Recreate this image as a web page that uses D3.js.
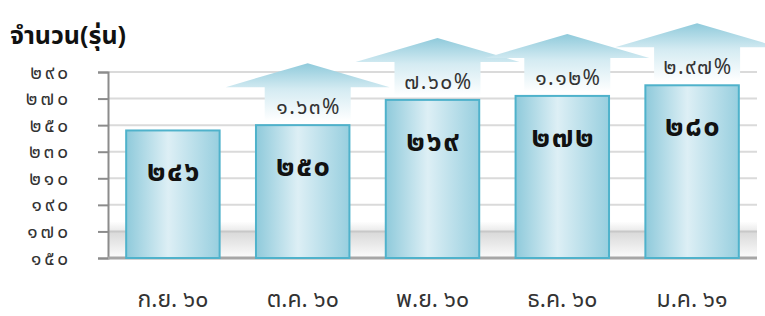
<!DOCTYPE html>
<html>
<head>
<meta charset="utf-8">
<script src="https://cdn.jsdelivr.net/npm/d3@7"></script>
<style>
  body { margin: 0; background: #fff; }
  svg { display: block; }
  svg text { font-family: "Noto Sans Thai", "Noto Sans", sans-serif; }
</style>
</head>
<body>
<div id="container"></div>
<script>
// data
const months = ["ก.ย. ๖๐", "ต.ค. ๖๐", "พ.ย. ๖๐", "ธ.ค. ๖๐", "ม.ค. ๖๑"];
const counts = [246, 250, 269, 272, 280];
const growth = [null, 1.63, 7.60, 1.12, 2.97];
const yTicks = [150, 170, 190, 210, 230, 250, 270, 290];

const W = 765, H = 316;
const thaiDigits = "๐๑๒๓๔๕๖๗๘๙";
function thai(s) {
  return String(s).replace(/[0-9]/g, d => thaiDigits[+d]);
}

let viz = d3.select("#container")
  .append("svg")
    .attr("width", W)
    .attr("height", H);

let defs = viz.append("defs");

// bar gradient, dark edges light middle
let barGrad = defs.append("linearGradient").attr("id", "barGrad")
  .attr("x1", 0).attr("x2", 1).attr("y1", 0).attr("y2", 0);
barGrad.append("stop").attr("offset", "0%").attr("stop-color", "#8fcadb");
barGrad.append("stop").attr("offset", "45%").attr("stop-color", "#ddeff5");
barGrad.append("stop").attr("offset", "100%").attr("stop-color", "#98cfdf");

// arrows fade to white at the bottom
let arrowGrad = defs.append("linearGradient").attr("id", "arrowGrad")
  .attr("x1", 0).attr("x2", 0).attr("y1", 0).attr("y2", 1);
arrowGrad.append("stop").attr("offset", "0%").attr("stop-color", "#8fcadb");
arrowGrad.append("stop").attr("offset", "45%").attr("stop-color", "#d4ebf2");
arrowGrad.append("stop").attr("offset", "100%").attr("stop-color", "#ffffff");

let floorGrad = defs.append("linearGradient").attr("id", "floorGrad")
  .attr("x1", 0).attr("x2", 0).attr("y1", 0).attr("y2", 1);
floorGrad.append("stop").attr("offset", "0%").attr("stop-color", "#d8d8d8");
floorGrad.append("stop").attr("offset", "100%").attr("stop-color", "#fcfcfc");

let wallGrad = defs.append("linearGradient").attr("id", "wallGrad")
  .attr("x1", 0).attr("x2", 0).attr("y1", 0).attr("y2", 1);
wallGrad.append("stop").attr("offset", "0%").attr("stop-color", "#ffffff");
wallGrad.append("stop").attr("offset", "100%").attr("stop-color", "#e9e9e9");

let x = d3.scaleBand()
  .domain(months)
  .range([108, 757])
  .paddingInner(0.28)
  .paddingOuter(0.14);

let y = d3.scaleLinear()
  .domain([150, 290])
  .range([258, 72]);

// floor shadow
viz.append("rect")
  .attr("x", 109)
  .attr("y", y(170) - 10)
  .attr("width", 757 - 109)
  .attr("height", 10)
  .attr("fill", "url(#wallGrad)");

viz.append("rect")
  .attr("x", 109)
  .attr("y", y(170))
  .attr("width", 757 - 109)
  .attr("height", y(150) - y(170))
  .attr("fill", "url(#floorGrad)");

// gridlines
viz.append("g").selectAll("line")
  .data(yTicks.slice(1)).enter()
  .append("line")
    .attr("x1", 108).attr("x2", 757)
    .attr("y1", d => y(d)).attr("y2", d => y(d))
    .attr("stroke", d => d == 170 ? "#c8c8c8" : "#dadada")
    .attr("stroke-width", 2);

// y axis
let yAxis = d3.axisLeft(y)
  .tickValues(yTicks)
  .tickSize(10)
  .tickPadding(27)
  .tickFormat(d => thai(d));

let yg = viz.append("g")
  .attr("transform", "translate(108,0)")
  .call(yAxis)
  .attr("font-family", null);
yg.select(".domain").attr("stroke", "#8c8c8c").attr("stroke-width", 2);
yg.selectAll(".tick line").attr("stroke", "#8c8c8c").attr("stroke-width", 2);
yg.selectAll(".tick text")
  .style("font-size", "19px")
  .style("letter-spacing", "3px")
  .style("fill", "#333");

// bottom line
viz.append("line")
  .attr("x1", 108).attr("x2", 757)
  .attr("y1", y(150)).attr("y2", y(150))
  .attr("stroke", "#a6a6a6").attr("stroke-width", 3);

// x axis labels
let xAxis = d3.axisBottom(x).tickSize(0).tickPadding(33);
let xg = viz.append("g")
  .attr("transform", "translate(0," + y(150) + ")")
  .call(xAxis)
  .attr("font-family", null);
xg.select(".domain").remove();
xg.selectAll(".tick text")
  .style("font-size", "23px")
  .style("fill", "#333");

// bars
let bars = viz.selectAll(".bar").data(counts).enter()
  .append("g")
    .attr("class", "bar");

bars.append("rect")
  .attr("x", (d, i) => x(months[i]))
  .attr("y", d => y(d))
  .attr("width", x.bandwidth())
  .attr("height", d => y(150) - y(d))
  .attr("fill", "url(#barGrad)")
  .attr("stroke", "#4fb2cb")
  .attr("stroke-width", 2);

bars.append("text")
  .attr("x", (d, i) => x(months[i]) + x.bandwidth() / 2 + 1)
  .attr("y", d => y(d) + 51)
  .attr("text-anchor", "middle")
  .style("font-size", "29px")
  .style("letter-spacing", "1.5px")
  .style("font-weight", "bold")
  .style("fill", "#111")
  .text(d => thai(d));

// growth arrows
function arrowPath(cx, top, bottom) {
  let hw = 82, sw = 43, hh = 24;
  return "M" + cx + "," + top +
    " L" + (cx + hw) + "," + (top + hh) +
    " L" + (cx + sw) + "," + (top + hh) +
    " L" + (cx + sw) + "," + bottom +
    " L" + (cx - sw) + "," + bottom +
    " L" + (cx - sw) + "," + (top + hh) +
    " L" + (cx - hw) + "," + (top + hh) + " Z";
}

let arrowData = growth.map((g, i) => ({g: g, i: i})).filter(d => d.g != null);

let arrows = viz.selectAll(".arrow").data(arrowData).enter()
  .append("g")
    .attr("class", "arrow");

arrows.append("path")
  .attr("d", d => {
    let cx = x(months[d.i]) + x.bandwidth() / 2 + 5;
    let top = y(counts[d.i]) - 62;
    return arrowPath(cx, top, y(counts[d.i]) - 4);
  })
  .attr("fill", "url(#arrowGrad)");

arrows.append("text")
  .attr("x", d => x(months[d.i]) + x.bandwidth() / 2 + 6)
  .attr("y", d => y(counts[d.i]) - 11)
  .attr("text-anchor", "middle")
  .style("font-size", "21px")
  .style("letter-spacing", "1.5px")
  .style("fill", "#333")
  .text(d => thai(d.g.toFixed(2)) + "%");

// title
viz.append("text")
  .attr("x", 10)
  .attr("y", 44)
  .style("font-size", "25px")
  .style("font-weight", "bold")
  .style("fill", "#111")
  .text("จำนวน(รุ่น)");
</script>
</body>
</html>
